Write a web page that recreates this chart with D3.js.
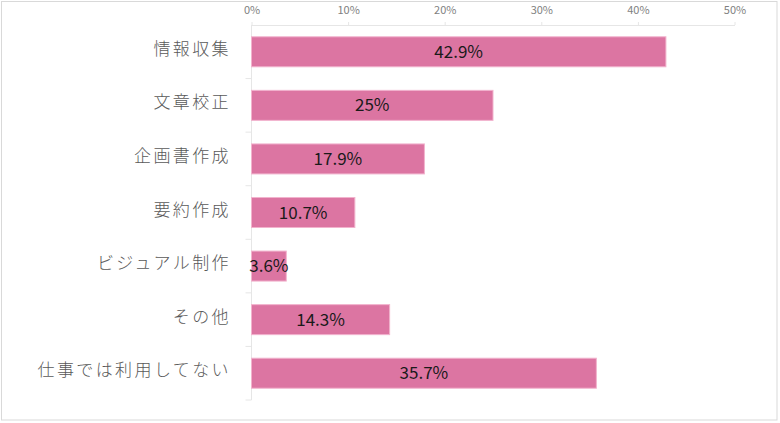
<!DOCTYPE html>
<html>
<head>
<meta charset="utf-8">
<script src="https://cdn.jsdelivr.net/npm/d3@7"></script>
<style>
  html, body { margin: 0; padding: 0; background: #fff; }
  svg { display: block; }
</style>
</head>
<body>
<svg id="chart"></svg>
<script>
const categories = ["情報収集", "文章校正", "企画書作成", "要約作成", "ビジュアル制作", "その他", "仕事では利用してない"];
const values = [42.9, 25, 17.9, 10.7, 3.6, 14.3, 35.7];
const valueLabels = ["42.9%", "25%", "17.9%", "10.7%", "3.6%", "14.3%", "35.7%"];
const ticks = [0, 10, 20, 30, 40, 50];

const width = 780, height = 423;
const margin = { top: 25, left: 251.5, right: 45.5, bottom: 23 };

const svg = d3.select("#chart").attr("width", width).attr("height", height);

// outer frame
svg.append("rect")
  .attr("x", 1.5).attr("y", 1.5)
  .attr("width", 775.5).attr("height", 418.5)
  .attr("fill", "#fff").attr("stroke", "#d9d9d9").attr("stroke-width", 1);

const x = d3.scaleLinear().domain([0, 50]).range([margin.left, width - margin.right]);
const y = d3.scaleBand().domain(categories)
  .range([margin.top, height - margin.bottom])
  .paddingInner(0.44).paddingOuter(0.22);

const font = "'Noto Sans CJK JP', 'Noto Sans', sans-serif";

// top axis
const xAxis = svg.append("g")
  .attr("transform", `translate(0,${margin.top})`)
  .call(d3.axisTop(x).tickValues(ticks).tickFormat(d => d + "%").tickSize(3).tickSizeOuter(0));
xAxis.select(".domain").attr("stroke", "#e6e6e6");
xAxis.selectAll(".tick line").attr("stroke", "#e6e6e6");
xAxis.selectAll(".tick text")
  .attr("fill", "#7f7f7f").attr("font-size", 11).attr("font-family", font).attr("dy", "-5");

// left axis line with boundary ticks
const step = y.step();
const boundaries = d3.range(categories.length + 1).map(i => margin.top + i * step);
svg.append("line")
  .attr("x1", x(0)).attr("x2", x(0))
  .attr("y1", margin.top).attr("y2", height - margin.bottom)
  .attr("stroke", "#e6e6e6");
svg.selectAll(".btick").data(boundaries.slice(1)).join("line")
  .attr("x1", x(0) - 6).attr("x2", x(0))
  .attr("y1", d => d).attr("y2", d => d)
  .attr("stroke", "#e6e6e6");

// category labels (sit slightly above the bar centre)
svg.selectAll(".cat").data(categories).join("text")
  .attr("x", 231)
  .attr("y", d => y(d) + y.bandwidth() / 2 - 3)
  .attr("dy", "0.36em")
  .attr("text-anchor", "end")
  .attr("font-size", 17)
  .attr("letter-spacing", "2.4px")
  .attr("font-family", font)
  .attr("font-weight", 300)
  .attr("fill", "#595959")
  .text(d => d);

// bars
svg.selectAll(".bar").data(categories).join("rect")
  .attr("x", x(0))
  .attr("y", (d) => y(d))
  .attr("width", (d, i) => x(values[i]) - x(0))
  .attr("height", y.bandwidth())
  .attr("fill", "#dc75a2")
  .attr("stroke", "#f2b3cd")
  .attr("stroke-width", 1);

// value labels
svg.selectAll(".val").data(categories).join("text")
  .attr("x", (d, i) => (x(0) + x(values[i])) / 2)
  .attr("y", d => y(d) + y.bandwidth() / 2)
  .attr("dy", "0.36em")
  .attr("text-anchor", "middle")
  .attr("font-size", 17)
  .attr("font-family", font)
  .attr("fill", "#1a1a1a")
  .text((d, i) => valueLabels[i]);
</script>
</body>
</html>
